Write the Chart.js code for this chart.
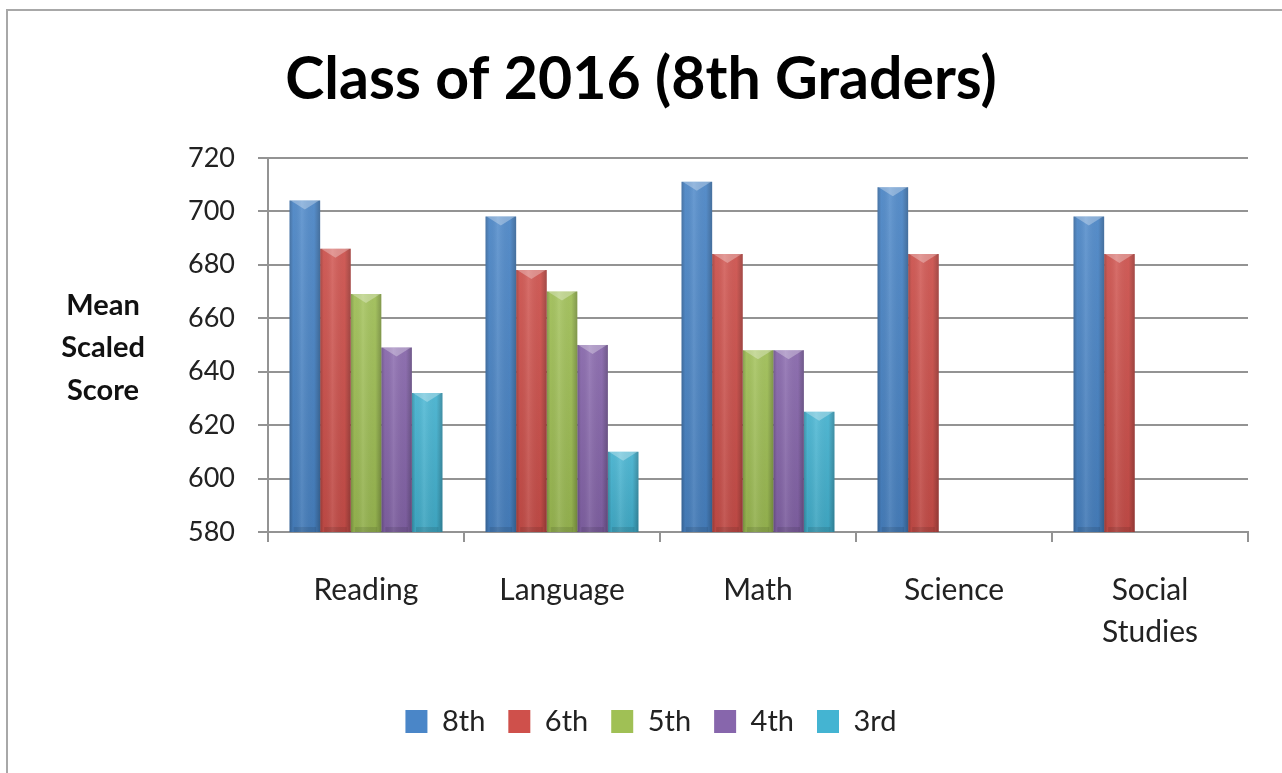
<!DOCTYPE html>
<html>
<head>
<meta charset="utf-8">
<script src="https://cdn.jsdelivr.net/npm/chart.js@4.4.0/dist/chart.umd.min.js"></script>
<style>
  html, body { margin: 0; padding: 0; background: #fff; }
  #wrap { position: relative; width: 1282px; height: 773px; overflow: hidden; }
  #frame { position: absolute; left: 6px; top: 9px; width: 1300px; height: 800px;
           border-left: 2px solid #a8a8a8; border-top: 2px solid #a8a8a8; }
  #scoreChart { position: absolute; left: 0; top: 0; }
</style>
</head>
<body>
<div id="wrap">
  <div id="frame"></div>
  <canvas id="scoreChart" width="1282" height="773"></canvas>
</div>
<script>
// chart values
const subjects = ['Reading', 'Language', 'Math', 'Science', ['Social', 'Studies']];
const grades = ['8th', '6th', '5th', '4th', '3rd'];
const grade8 = [704, 698, 711, 709, 698];
const grade6 = [686, 678, 684, 684, 684];
const grade5 = [669, 670, 648, null, null];
const grade4 = [649, 650, 648, null, null];
const grade3 = [632, 610, 625, null, null];
const yMin = 580;
const yMax = 720;
const yStep = 20;
const yTitle = ['Mean', 'Scaled', 'Score'];
const chartTitle = 'Class of 2016 (8th Graders)';

const gradeColors = ['#4a86c8', '#cf504b', '#a0c055', '#8766ac', '#44b4d2'];
const gridColor = '#939393';
const fontFamily = 'Lato, "Open Sans", sans-serif';

const seriesValues = [grade8, grade6, grade5, grade4, grade3];

// y axis title written flat in three lines, left of the axis
const yTitlePlugin = {
    id: 'yTitle',
    afterDraw(chart) {
        const ctx = chart.ctx;
        const area = chart.chartArea;
        const yScale = chart.scales.y;
        ctx.save();
        ctx.font = 'bold 29px ' + fontFamily;
        ctx.fillStyle = '#111';
        ctx.textAlign = 'center';
        ctx.textBaseline = 'middle';
        const mid = (area.top + area.bottom) / 2 + 3;
        const cx = yScale.left + 69;
        yTitle.forEach(function(t, i) {
            ctx.fillText(t, cx, mid + (i - 1) * 42.5);
        });
        ctx.restore();
    }
};

// legend in the reference sits a little right of centre
const legendNudge = {
    id: 'legendNudge',
    afterLayout(chart) {
        if (chart.legend) {
            chart.legend.left += 10;
            chart.legend.right += 10;
        }
    }
};

// excel 2007 style shading on top of the flat bars
const barShadePlugin = {
    id: 'barShade',
    afterDatasetsDraw(chart) {
        const ctx = chart.ctx;
        const area = chart.chartArea;
        ctx.save();
        chart.getSortedVisibleDatasetMetas().forEach(function(meta) {
            const values = chart.data.datasets[meta.index].data;
            meta.data.forEach(function(bar, i) {
                if (values[i] == null) return;
                const p = bar.getProps(['x', 'y', 'base', 'width'], true);
                const l = p.x - p.width / 2;
                const r = p.x + p.width / 2;
                const bottom = Math.min(p.base, area.bottom);
                const h = bottom - p.y;

                const g = ctx.createLinearGradient(l, 0, r, 0);
                g.addColorStop(0, 'rgba(0,0,0,0.22)');
                g.addColorStop(0.12, 'rgba(0,0,0,0.02)');
                g.addColorStop(0.4, 'rgba(255,255,255,0.10)');
                g.addColorStop(0.8, 'rgba(0,0,0,0.02)');
                g.addColorStop(1, 'rgba(0,0,0,0.25)');
                ctx.fillStyle = g;
                ctx.fillRect(l, p.y, p.width, h);

                const v = ctx.createLinearGradient(0, p.y, 0, bottom);
                v.addColorStop(0, 'rgba(255,255,255,0.08)');
                v.addColorStop(1, 'rgba(0,0,0,0.08)');
                ctx.fillStyle = v;
                ctx.fillRect(l, p.y, p.width, h);

                // top bevel
                ctx.beginPath();
                ctx.moveTo(l + 1, p.y);
                ctx.lineTo(r - 1, p.y);
                ctx.lineTo(p.x, p.y + 9);
                ctx.closePath();
                ctx.fillStyle = 'rgba(255,255,255,0.30)';
                ctx.fill();

                // bottom bevel
                ctx.fillStyle = 'rgba(0,0,0,0.10)';
                ctx.fillRect(l + 4, bottom - 5, p.width - 8, 5);
            });
        });
        ctx.restore();
    }
};

const datasets = grades.map(function(g, i) {
    return {
        label: g,
        data: seriesValues[i],
        backgroundColor: gradeColors[i],
        borderWidth: 0,
        categoryPercentage: 0.78,
        barPercentage: 1.0
    };
});

const scoreConfig = {
    type: 'bar',
    data: {
        labels: subjects,
        datasets: datasets
    },
    options: {
        responsive: false,
        devicePixelRatio: 1,
        animation: false,
        layout: {
            padding: { left: 34, right: 34, top: 20, bottom: 27 }
        },
        scales: {
            x: {
                grid: {
                    offset: true,
                    drawOnChartArea: false,
                    tickLength: 10,
                    color: gridColor,
                    lineWidth: 2
                },
                border: { color: gridColor, width: 2 },
                ticks: {
                    color: '#222',
                    padding: 27,
                    font: { family: fontFamily, size: 30, lineHeight: 1.4 }
                },
                afterFit: function(scale) {
                    scale.height += 4;
                }
            },
            y: {
                min: yMin,
                max: yMax,
                ticks: {
                    stepSize: yStep,
                    color: '#222',
                    padding: 23,
                    font: { family: fontFamily, size: 27 }
                },
                grid: {
                    color: gridColor,
                    lineWidth: 2,
                    tickLength: 10
                },
                border: { color: gridColor, width: 2 },
                afterFit: function(scale) {
                    scale.width = 234;
                }
            }
        },
        plugins: {
            title: {
                display: true,
                text: chartTitle,
                color: '#000',
                font: { family: fontFamily, size: 59, weight: 'bold', lineHeight: 1.2 },
                padding: { top: 25, bottom: 42 }
            },
            legend: {
                position: 'bottom',
                labels: {
                    boxWidth: 22,
                    boxHeight: 23,
                    padding: 23,
                    color: '#222',
                    font: { family: fontFamily, size: 29 }
                }
            },
            tooltip: { enabled: false }
        }
    },
    plugins: [yTitlePlugin, barShadePlugin, legendNudge]
};

window.onload = function() {
    const ctx = document.getElementById('scoreChart').getContext('2d');
    window.scoreChart = new Chart(ctx, scoreConfig);
};
</script>
</body>
</html>
